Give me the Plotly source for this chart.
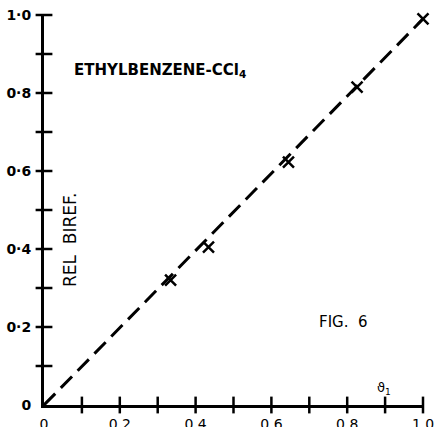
import plotly.graph_objects as go

# data
v1 = [0.334, 0.434, 0.645, 0.826, 1.0]
rel_biref = [0.32, 0.405, 0.623, 0.815, 0.99]
fit_x = [0.0, 1.0]
fit_y = [0.0, 0.99]

y_tickvals = [0, 0.2, 0.4, 0.6, 0.8, 1.0]
y_ticktext = ["0", "0·2", "0·4", "0·6", "0·8", "1·0"]
x_tickvals = [0, 0.2, 0.4, 0.6, 0.8, 1.0]
x_ticktext = ["0", "0.2", "0.4", "0.6", "0.8", "1.0"]
minor_ticks = [0.1, 0.2, 0.3, 0.4, 0.5, 0.6, 0.7, 0.8, 0.9, 1.0]

FONT = "DejaVu Sans"

fig = go.Figure()

# hand-drawn style tick marks crossing the axes
fig.add_trace(go.Scatter(
    x=minor_ticks, y=[0] * len(minor_ticks), mode="markers",
    marker=dict(symbol="line-ns", size=12, line=dict(color="black", width=2.5)),
    cliponaxis=False, hoverinfo="skip", showlegend=False))
fig.add_trace(go.Scatter(
    x=[0] * len(minor_ticks), y=minor_ticks, mode="markers",
    marker=dict(symbol="line-ew", size=12, line=dict(color="black", width=2.5)),
    cliponaxis=False, hoverinfo="skip", showlegend=False))

# dashed line
fig.add_trace(go.Scatter(
    x=fit_x, y=fit_y, mode="lines",
    line=dict(color="black", width=3, dash="16px,8px"),
    cliponaxis=False, hoverinfo="skip", showlegend=False))

# data points
fig.add_trace(go.Scatter(
    x=v1, y=rel_biref, mode="markers",
    marker=dict(symbol="x-thin", size=11, line=dict(color="black", width=2.5)),
    cliponaxis=False, showlegend=False))

fig.update_xaxes(
    range=[0, 1], showgrid=False, zeroline=False, automargin=False,
    showline=True, linecolor="black", linewidth=3,
    tickvals=x_tickvals, ticktext=x_ticktext, ticks="",
    ticklabelstandoff=4,
    tickfont=dict(family=FONT, size=14, color="black"))
fig.update_yaxes(
    range=[0, 1], showgrid=False, zeroline=False, automargin=False,
    showline=True, linecolor="black", linewidth=3,
    tickvals=y_tickvals, ticktext=y_ticktext, ticks="",
    ticklabelstandoff=7,
    tickfont=dict(family=FONT, size=14, color="black", weight="bold"))

fig.add_annotation(
    x=72, y=70, xref="paper", yref="paper", text="ETHYLBENZENE-CCl<sub>4</sub>",
    showarrow=False, xanchor="left", yanchor="middle",
    font=dict(family=FONT, size=15, color="black", weight="bold"))
fig.add_annotation(
    text="REL  BIREF.", x=70, y=240, xref="paper", yref="paper",
    textangle=-90, showarrow=False, xanchor="center", yanchor="middle",
    font=dict(family=FONT, size=17, color="black"))
fig.add_annotation(
    text="FIG.  6", x=343, y=322, xref="paper", yref="paper",
    showarrow=False, xanchor="center", yanchor="middle",
    font=dict(family=FONT, size=15, color="black"))
fig.add_annotation(
    text="ϑ<sub>1</sub>", x=384, y=388, xref="paper", yref="paper",
    showarrow=False, xanchor="center", yanchor="middle",
    font=dict(family=FONT, size=13, color="black"))

# convert pixel annotations to paper coords
W, H = 435, 427
L, R, T, B = 44, 12, 15, 22
pw, ph = W - L - R, H - T - B
for a in fig.layout.annotations:
    a.x = (a.x - L) / pw
    a.y = (H - B - a.y) / ph

fig.update_layout(
    width=W, height=H, autosize=False,
    margin=dict(l=L, r=R, t=T, b=B, autoexpand=False),
    plot_bgcolor="white", paper_bgcolor="white",
    font=dict(family=FONT, color="black"))

fig.write_html("out.html", config={"displayModeBar": False},
               post_script="document.body.style.margin='0';document.body.style.overflow='hidden';")
